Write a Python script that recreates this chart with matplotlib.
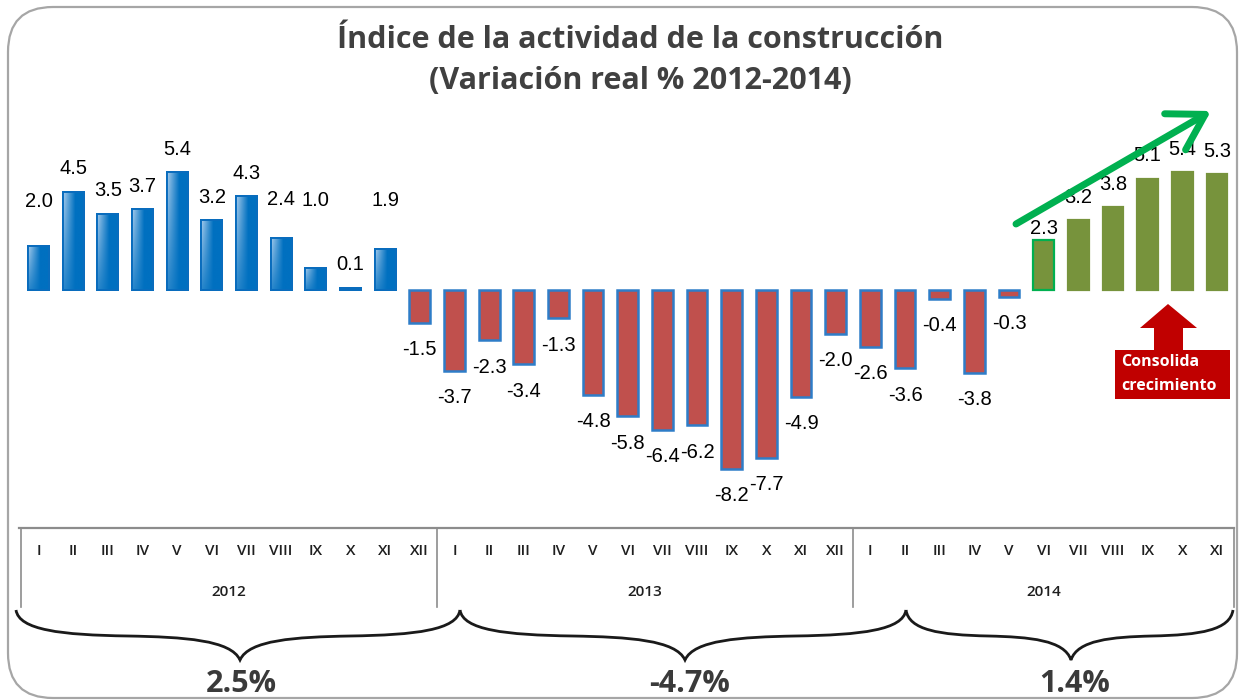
import numpy as np
import matplotlib
matplotlib.use('Agg')
import matplotlib.pyplot as plt
import matplotlib.colors as mcolors
import matplotlib.transforms as mtransforms
from matplotlib.patches import FancyBboxPatch, Polygon, PathPatch
from matplotlib.path import Path

plt.rcParams['font.family'] = ['Open Sans', 'DejaVu Sans']

# data
years = ['2012', '2013', '2014']
months = ['I', 'II', 'III', 'IV', 'V', 'VI', 'VII', 'VIII', 'IX', 'X', 'XI', 'XII']
n_months = [12, 12, 11]
values_2012 = [2.0, 4.5, 3.5, 3.7, 5.4, 3.2, 4.3, 2.4, 1.0, 0.1, 1.9, -1.5]
values_2013 = [-3.7, -2.3, -3.4, -1.3, -4.8, -5.8, -6.4, -6.2, -8.2, -7.7, -4.9, -2.0]
values_2014 = [-2.6, -3.6, -0.4, -3.8, -0.3, 2.3, 3.2, 3.8, 5.1, 5.4, 5.3]
annual = ['2.5%', '-4.7%', '1.4%']

values = values_2012 + values_2013 + values_2014
year_idx = [0] * 12 + [1] * 12 + [2] * 11

W, H = 1239, 700
fig = plt.figure(figsize=(W / 100, H / 100), dpi=100)

# background overlay in pixel coords
bg = fig.add_axes([0, 0, 1, 1])
bg.set_xlim(0, W)
bg.set_ylim(H, 0)
bg.axis('off')

# bar axes
ax = fig.add_axes([21.2 / W, 1 - 529.8 / H, 1213.1 / W, 436 / H])
ax.patch.set_alpha(0)
ax.axis('off')

fg = fig.add_axes([0, 0, 1, 1])
fg.set_xlim(0, W)
fg.set_ylim(H, 0)
fg.axis('off')

# rounded frame
frame = FancyBboxPatch((8, 7), 1229, 691, boxstyle='round,pad=0,rounding_size=45',
                       fc='none', ec='#a6a6a6', lw=1.6)
bg.add_patch(frame)

# title
bg.text(640, 40, 'Índice de la actividad de la construcción', ha='center', va='center',
        fontsize=22, fontweight='bold', color='#404040')
bg.text(640, 81, '(Variación real % 2012-2014)', ha='center', va='center',
        fontsize=22, fontweight='bold', color='#404040')

# bars
bw = 0.6
blue = '#0070c0'
red = '#c0504d'
green = '#77933c'
base = np.array(mcolors.to_rgb(blue))
light = np.array(mcolors.to_rgb('#c4dcf4'))
u = np.linspace(0, 1, 40)[None, :]
w = np.linspace(0, 1, 80)[:, None]
t = np.clip(1 - u * 1.7, 0, 1) * (0.25 + 0.75 * (1 - w))
grad = base + (light - base) * (t[..., None] * 0.85)

for i, v in enumerate(values):
    if v < 0:
        ax.bar(i, v, bw, color=red, ec='#2e7dc8', lw=1.8, zorder=2)
    elif year_idx[i] == 0:
        b = ax.bar(i, v, bw, color=blue, ec=blue, lw=1.4, zorder=2)[0]
        im = ax.imshow(grad, extent=(i - bw / 2, i + bw / 2, 0, v), origin='upper',
                       aspect='auto', zorder=2.5)
        im.set_clip_path(b)
        ax.bar(i, v, bw, fill=False, ec='#0a6cbd', lw=1.4, zorder=3)
    else:
        ec = '#00b050' if values_2014.index(v) == 5 else green
        ax.bar(i, v, bw, color=green, ec=ec, lw=1.6, zorder=2)

ax.set_xlim(-0.5, len(values) - 0.5)
ax.set_ylim(-11, 9)

# value labels
nudge = {0: 22, 7: 15, 8: 45, 10: 25, 29: -12}
for i, v in enumerate(values):
    off = (23 if v > 0 else -27) + nudge.get(i, 0)
    ax.annotate(f'{v:.1f}', (i, v), xytext=(0, off), textcoords='offset pixels',
                ha='center', va='center', fontsize=14.5, family='Liberation Sans',
                color='black', zorder=4)

# category table
tr = mtransforms.blended_transform_factory(ax.transData, bg.transData)
bg.plot([-0.55, len(values) - 0.5], [528, 528], transform=tr, color='#8c8c8c', lw=1.6)
start = 0
bounds = [-0.5]
for k, n in enumerate(n_months):
    for j in range(n):
        bg.text(start + j, 551, months[j], transform=tr, ha='center', va='center',
                fontsize=11, fontweight='semibold', color='#1f1f1f')
    bg.text(start + (n - 1) / 2, 592, years[k], transform=tr, ha='center', va='center',
            fontsize=11, fontweight='semibold', color='#1f1f1f')
    start += n
    bounds.append(start - 0.5)
for b in bounds:
    bg.plot([b, b], [528, 607], transform=tr, color='#8c8c8c', lw=1.2)


# braces
def brace(x0, x1, xm, ytop=610, yarm=636, ytip=660):
    h1 = xm - x0
    h2 = x1 - xm
    verts = [
        (x0, ytop), (x0 + 3, ytop + 20), (x0 + 0.2 * h1, yarm - 1), (x0 + 0.5 * h1, yarm),
        (xm - 0.25 * h1, yarm + 1), (xm - 0.04 * h1, yarm + 4), (xm, ytip),
        (xm + 0.04 * h2, yarm + 4), (xm + 0.25 * h2, yarm + 1), (xm + 0.5 * h2, yarm),
        (x1 - 0.2 * h2, yarm - 1), (x1 - 3, ytop + 20), (x1, ytop),
    ]
    codes = [Path.MOVETO] + [Path.CURVE4] * 12
    bg.add_patch(PathPatch(Path(verts, codes), fc='none', ec='#1a1a1a', lw=2.0))


brace(16, 460, 240)
brace(460, 906, 685)
brace(906, 1233, 1071)
for xm, lab in zip([241, 690, 1075], annual):
    bg.text(xm, 684, lab, ha='center', va='center', fontsize=22, fontweight='bold',
            color='#3a3a3a')

# green trend arrow
fg.annotate('', xy=(1211, 111), xytext=(1016, 224),
            arrowprops=dict(arrowstyle='->,head_length=1.0,head_width=0.6',
                            color='#00b050', lw=5, mutation_scale=25,
                            shrinkA=0, shrinkB=0))

# red block arrow with box
pts = [(1168, 304), (1197, 328), (1183, 328), (1183, 350), (1230, 350), (1230, 399),
       (1115, 399), (1115, 350), (1154, 350), (1154, 328), (1140, 328)]
fg.add_patch(Polygon(pts, closed=True, fc='#c00000', ec='none'))
fg.text(1121, 362, 'Consolida', color='white', fontsize=11.5, fontweight='bold', va='center')
fg.text(1121, 386, 'crecimiento', color='white', fontsize=11.5, fontweight='bold', va='center')

fig.savefig('out.png', dpi=100)
